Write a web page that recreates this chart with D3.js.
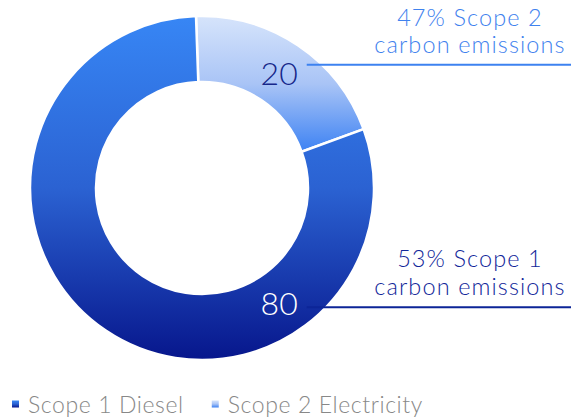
<!DOCTYPE html>
<html>
<head>
<meta charset="utf-8">
<script src="https://cdn.jsdelivr.net/npm/d3@7"></script>
<style>
body{margin:0;background:#fff;}
svg{display:block;font-family:Lato,"Open Sans",sans-serif;font-weight:300;}
</style>
</head>
<body>
<div id="plot"></div>
<script>
// data
var categories = ['Scope 2 Electricity','Scope 1 Diesel'];
var values = [20, 80];
var notes = [['47% Scope 2','carbon emissions'],['53% Scope 1','carbon emissions']];
var legendOrder = ['Scope 1 Diesel','Scope 2 Electricity'];

var width = 571, height = 418;
var cx = 202, cy = 188, rOut = 172, rIn = 106;

var svg = d3.select('#plot').append('svg')
	.attr('width',width)
	.attr('height',height);

var defs = svg.append('defs');
// gradients per slice (top -> bottom)
var grads = {
	'Scope 2 Electricity':['#d6e4fb','#a9c4f6','#3d82f3'],
	'Scope 1 Diesel':['#3786f5','#2b62d2','#07168c']
};
var lineCol = {'Scope 2 Electricity':'#3d82f0','Scope 1 Diesel':'#0c2597'};
var labelCol = {'Scope 2 Electricity':'#16278a','Scope 1 Diesel':'#ffffff'};
var noteCol = {'Scope 2 Electricity':'#3f82ee','Scope 1 Diesel':'#12279a'};

Object.keys(grads).forEach(function(k,i){
	var g = defs.append('linearGradient')
		.attr('id','g'+i)
		.attr('x1',0).attr('y1',0).attr('x2',0).attr('y2',1);
	grads[k].forEach(function(c,j){
		g.append('stop').attr('offset',(j/(grads[k].length-1)*100)+'%').attr('stop-color',c);
	});
	grads[k].id = 'g'+i;
});

var data = categories.map(function(c,i){ return {name:c, value:values[i], note:notes[i]}; });

var start = -2*Math.PI/180;
var pie = d3.pie().sort(null).value(function(d){return d.value;})
	.startAngle(start).endAngle(start+2*Math.PI);
var arc = d3.arc().innerRadius(rIn).outerRadius(rOut);

var plot = svg.append('g').attr('transform','translate('+cx+','+cy+')');
var arcs = pie(data);

plot.selectAll('path.slice')
	.data(arcs)
	.enter()
	.append('path')
	.attr('class','slice')
	.attr('d',arc)
	.attr('fill',function(d){return 'url(#'+grads[d.data.name].id+')';})
	.attr('stroke','#fff')
	.attr('stroke-width',2.5);

// labels at centroid height, on the right side
arcs.forEach(function(d){
	var c = arc.centroid(d);
	var lx = Math.abs(c[0]) + 18, ly = c[1];
	var nm = d.data.name;
	plot.append('text')
		.attr('x',lx).attr('y',ly+12)
		.attr('text-anchor','end')
		.style('font-size','32px')
		.attr('fill',labelCol[nm])
		.text(d.data.value);
	var lineY = ly < 0 ? ly - 8 : ly + 4;
	plot.append('line')
		.attr('x1',lx+9).attr('x2',width-cx)
		.attr('y1',lineY).attr('y2',lineY)
		.attr('stroke',lineCol[nm])
		.attr('stroke-width',2);
	var t = plot.append('text')
		.attr('text-anchor','middle')
		.style('font-size','23.5px')
		.style('letter-spacing','1.1px')
		.attr('fill',noteCol[nm]);
	d.data.note.forEach(function(s,i){
		t.append('tspan')
			.attr('x',470-cx)
			.attr('y',lineY-(ly<0?39:40)+i*27.5)
			.text(s);
	});
});

// legend
var lg = svg.append('g').attr('transform','translate(12,404)');
var lx0 = 0;
legendOrder.forEach(function(n){
	var g = lg.append('g').attr('transform','translate('+lx0+',0)');
	g.append('rect').attr('x',0).attr('y',-3.5).attr('width',7).attr('height',7)
		.attr('fill','url(#'+grads[n].id+')');
	var t = g.append('text').attr('x',16).attr('y',8.5)
		.style('font-size','23px').style('letter-spacing','0.6px')
		.attr('fill','#888').text(n);
	lx0 += 16 + t.node().getComputedTextLength() + 28;
});
</script>
</body>
</html>
